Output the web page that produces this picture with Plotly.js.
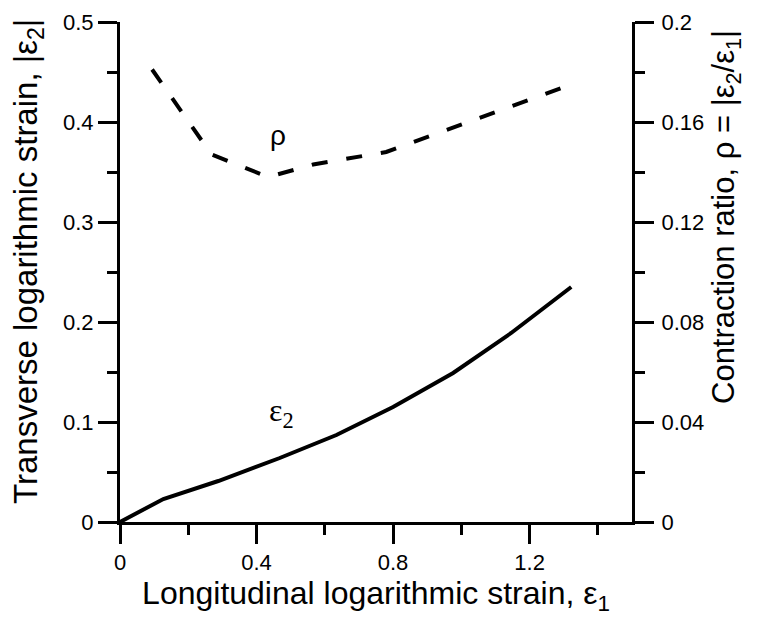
<!DOCTYPE html>
<html><head><meta charset="utf-8">
<script src="https://cdn.plot.ly/plotly-3.0.1.min.js"></script>
<style>html,body{margin:0;padding:0;background:#fff}</style>
</head><body><div id="chart" style="width:760px;height:622px"></div>
<script>
// Transverse strain epsilon2 vs longitudinal strain epsilon1 (left axis)
const strainX = [0, 0.127, 0.288, 0.468, 0.634, 0.800, 0.976, 1.146, 1.322];
const strainY = [0, 0.023, 0.041, 0.064, 0.087, 0.115, 0.149, 0.189, 0.235];
// Contraction ratio rho (right axis)
const ratioX = [0.094, 0.268, 0.434, 0.566, 0.780, 1.322];
const ratioY = [0.181, 0.147, 0.138, 0.143, 0.148, 0.175];

const xTitle = 'Longitudinal logarithmic strain, ε<sub>1</sub>';
const yTitle = 'Transverse logarithmic strain, |ε<sub>2</sub>|';
const y2Title = 'Contraction ratio, ρ = |ε<sub>2</sub>/ε<sub>1</sub>|';

const FONT = 'Liberation Sans, Arial, sans-serif';

const traces = [
  {x: strainX, y: strainY, type: 'scatter', mode: 'lines', yaxis: 'y',
   line: {color: '#000', width: 4}, showlegend: false, hoverinfo: 'skip'},
  {x: ratioX, y: ratioY, type: 'scatter', mode: 'lines', yaxis: 'y2',
   line: {color: '#000', width: 4, dash: '16px,19px'}, showlegend: false, hoverinfo: 'skip'}
];

const axisCommon = {
  showline: true, linewidth: 3, linecolor: '#000', mirror: false,
  showgrid: false, zeroline: false,
  ticks: 'outside', ticklen: 19, tickwidth: 3, tickcolor: '#000',
  tickfont: {family: FONT, size: 22, color: '#000'},
  fixedrange: true
};

const layout = {
  width: 760, height: 622,
  margin: {l: 120, r: 128, t: 22, b: 100},
  paper_bgcolor: '#fff', plot_bgcolor: '#fff',
  showlegend: false,
  xaxis: Object.assign({}, axisCommon, {
    range: [0, 1.5], tick0: 0, dtick: 0.4,
    minor: {dtick: 0.2, ticks: 'outside', ticklen: 10, tickwidth: 3, tickcolor: '#000', showgrid: false},
    ticklabelstandoff: 0,
    title: {text: xTitle, font: {family: FONT, size: 32, color: '#000'}, standoff: 2}
  }),
  yaxis: Object.assign({}, axisCommon, {
    range: [0, 0.5], tick0: 0, dtick: 0.1,
    minor: {dtick: 0.05, ticks: 'outside', ticklen: 10, tickwidth: 3, tickcolor: '#000', showgrid: false}
  }),
  yaxis2: Object.assign({}, axisCommon, {
    overlaying: 'y', side: 'right', anchor: 'x',
    range: [0, 0.2], tick0: 0, dtick: 0.04,
    minor: {dtick: 0.02, ticks: 'outside', ticklen: 10, tickwidth: 3, tickcolor: '#000', showgrid: false},
    ticklabelstandoff: 3
  }),
  annotations: [
    {x: 0.462, y: 0.387, xref: 'x', yref: 'y', text: 'ρ', showarrow: false,
     font: {family: FONT, size: 28, color: '#000'}},
    {x: 0.474, y: 0.11, xref: 'x', yref: 'y', text: 'ε<sub>2</sub>', showarrow: false,
     font: {family: 'Liberation Serif, Times New Roman, serif', size: 32, color: '#000'}},
    {x: 0, y: 0.52, xref: 'paper', yref: 'paper', xshift: -92, text: yTitle, textangle: -90,
     showarrow: false, xanchor: 'center', yanchor: 'middle',
     font: {family: FONT, size: 33, color: '#000'}},
    {x: 1, y: 0.61, xref: 'paper', yref: 'paper', xshift: 94, text: y2Title, textangle: -90,
     showarrow: false, xanchor: 'center', yanchor: 'middle',
     font: {family: FONT, size: 31, color: '#000'}}
  ]
};

Plotly.newPlot('chart', traces, layout, {staticPlot: true, displayModeBar: false});
</script>
</body></html>
